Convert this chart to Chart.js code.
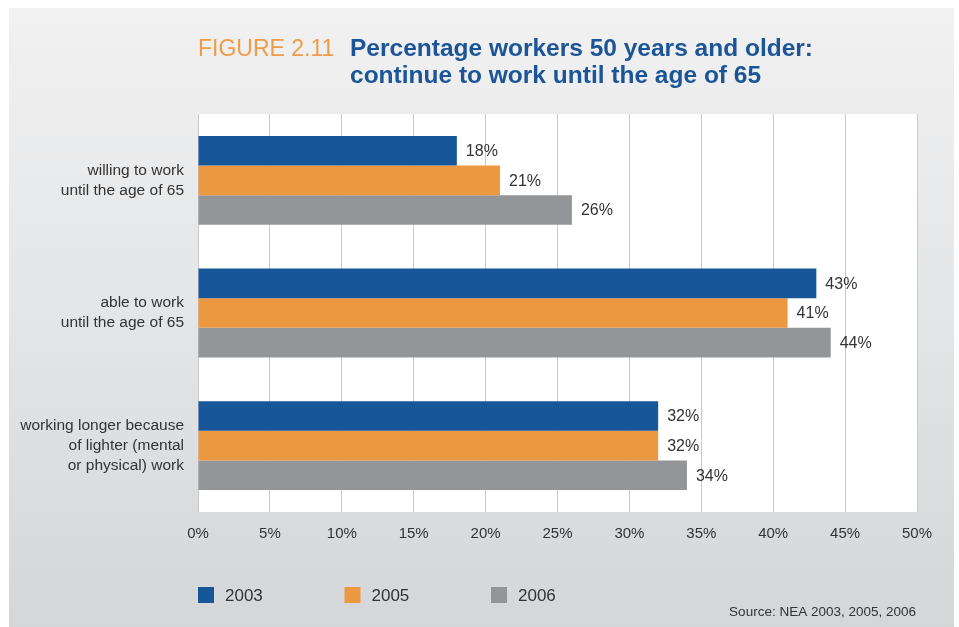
<!DOCTYPE html>
<html>
<head>
<meta charset="utf-8">
<title>Percentage workers 50 years and older</title>
<script src="https://cdn.jsdelivr.net/npm/chart.js@4.4.1/dist/chart.umd.min.js"></script>
<style>
  html, body { margin: 0; padding: 0; background: #fff; }
  #wrap { position: relative; width: 959px; height: 627px; overflow: hidden; }
  #panel {
    position: absolute; left: 9px; top: 8px; width: 945px; height: 619px;
    background: linear-gradient(to bottom, #f1f1f2 0%, #e4e5e6 50%, #d5d6d8 100%);
  }
  #chart { position: absolute; left: 0; top: 0; }
</style>
</head>
<body>
<div id="wrap">
  <div id="panel"></div>
  <canvas id="chart" width="959" height="627"></canvas>
</div>
<script>
const FONT = "'Liberation Sans', Arial, sans-serif";

// categories (multi-line labels on the y axis)
const categories = [
  ['willing to work', 'until the age of 65'],
  ['able to work', 'until the age of 65'],
  ['working longer because', 'of lighter (mental', 'or physical) work']
];

// percentages per survey year
const years = ['2003', '2005', '2006'];
const values2003 = [18, 43, 32];
const values2005 = [21, 41, 32];
const values2006 = [26, 44, 34];
const colors = ['#175698', '#ec9841', '#949599'];

const xTicks = [0, 5, 10, 15, 20, 25, 30, 35, 40, 45, 50];

// white plot area behind the bars
const plotBackground = {
  id: 'plotBackground',
  beforeDraw(chart) {
    const { ctx, chartArea: a } = chart;
    ctx.save();
    ctx.fillStyle = '#ffffff';
    ctx.fillRect(a.left, a.top, a.right - a.left, a.bottom - a.top);
    ctx.restore();
  }
};

// value labels right of each bar
const valueLabels = {
  id: 'valueLabels',
  afterDatasetsDraw(chart) {
    const ctx = chart.ctx;
    ctx.save();
    ctx.font = '16px ' + FONT;
    ctx.fillStyle = '#333333';
    ctx.textAlign = 'left';
    ctx.textBaseline = 'middle';
    chart.data.datasets.forEach((ds, i) => {
      chart.getDatasetMeta(i).data.forEach((bar, j) => {
        ctx.fillText(ds.data[j] + '%', bar.x + 9, bar.y + 1);
      });
    });
    ctx.restore();
  }
};

// heading, legend and source line
const decorations = {
  id: 'decorations',
  afterDraw(chart) {
    const ctx = chart.ctx;
    ctx.save();
    ctx.textBaseline = 'alphabetic';
    ctx.textAlign = 'left';
    ctx.font = '23px ' + FONT;
    ctx.fillStyle = '#ef9b47';
    ctx.fillText('FIGURE 2.11', 198, 56);
    ctx.font = 'bold 24.5px ' + FONT;
    ctx.fillStyle = '#1b5597';
    ctx.fillText('Percentage workers 50 years and older:', 350, 56);
    ctx.fillText('continue to work until the age of 65', 350, 83);

    // legend
    ctx.font = '17px ' + FONT;
    ctx.textBaseline = 'middle';
    chart.data.datasets.forEach((ds, i) => {
      const x = 198 + i * 146.5;
      ctx.fillStyle = ds.backgroundColor;
      ctx.fillRect(x, 587, 16, 16);
      ctx.fillStyle = '#333333';
      ctx.fillText(ds.label, x + 27, 596);
    });

    ctx.font = '13.5px ' + FONT;
    ctx.textAlign = 'right';
    ctx.fillStyle = '#333333';
    ctx.fillText('Source: NEA 2003, 2005, 2006', 916, 612);
    ctx.restore();
  }
};

const ctx = document.getElementById('chart').getContext('2d');
new Chart(ctx, {
  type: 'bar',
  data: {
    labels: categories,
    datasets: [
      { label: years[0], data: values2003, backgroundColor: colors[0] },
      { label: years[1], data: values2005, backgroundColor: colors[1] },
      { label: years[2], data: values2006, backgroundColor: colors[2] }
    ]
  },
  options: {
    indexAxis: 'y',
    responsive: false,
    animation: false,
    events: [],
    datasets: {
      bar: { categoryPercentage: 0.67, barPercentage: 1, borderWidth: 0 }
    },
    layout: { padding: { top: 114, right: 42, bottom: 75, left: 0 } },
    plugins: {
      legend: { display: false },
      title: { display: false },
      tooltip: { enabled: false }
    },
    scales: {
      x: {
        min: 0,
        max: 50,
        afterBuildTicks(scale) {
          scale.ticks = xTicks.map(v => ({ value: v }));
        },
        afterFit(scale) { scale.height = 40; },
        ticks: {
          callback: v => v + '%',
          font: { family: FONT, size: 15 },
          color: '#333333',
          padding: 13,
          maxRotation: 0
        },
        grid: { color: '#cacaca', lineWidth: 1, drawTicks: false },
        border: { display: false }
      },
      y: {
        afterFit(scale) { scale.width = 198; },
        ticks: {
          font: { family: FONT, size: 15.5, lineHeight: 1.3 },
          color: '#333333',
          padding: 14
        },
        grid: { display: false, drawTicks: false },
        border: { display: false }
      }
    }
  },
  plugins: [plotBackground, valueLabels, decorations]
});
</script>
</body>
</html>
